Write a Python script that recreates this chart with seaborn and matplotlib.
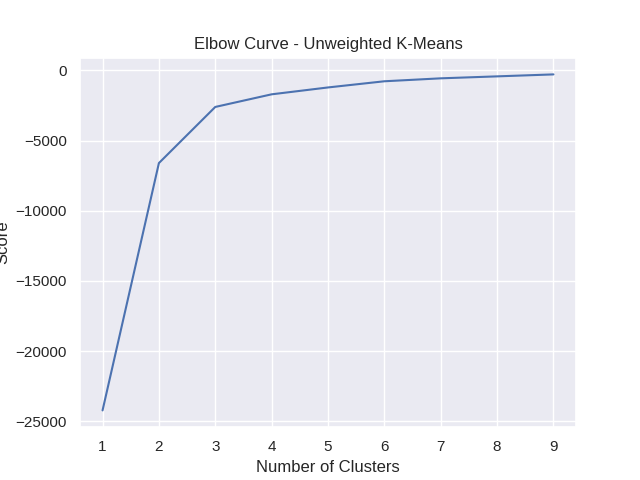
import matplotlib
matplotlib.use('agg')
import matplotlib.pyplot as plt
import seaborn as sns

n_clusters = [1, 2, 3, 4, 5, 6, 7, 8, 9]
scores = [-24230, -6600, -2600, -1700, -1210, -770, -560, -420, -280]

sns.set_theme()
plt.rcParams['font.family'] = ['Liberation Sans', 'DejaVu Sans']

fig, ax = plt.subplots(figsize=(6.4, 4.8), dpi=100)
sns.lineplot(x=n_clusters, y=scores, ax=ax)
ax.set_xlabel('Number of Clusters')
ax.set_ylabel('Score')
ax.set_title('Elbow Curve - Unweighted K-Means')
ax.set_xticks(n_clusters)
plt.savefig('out.png')
